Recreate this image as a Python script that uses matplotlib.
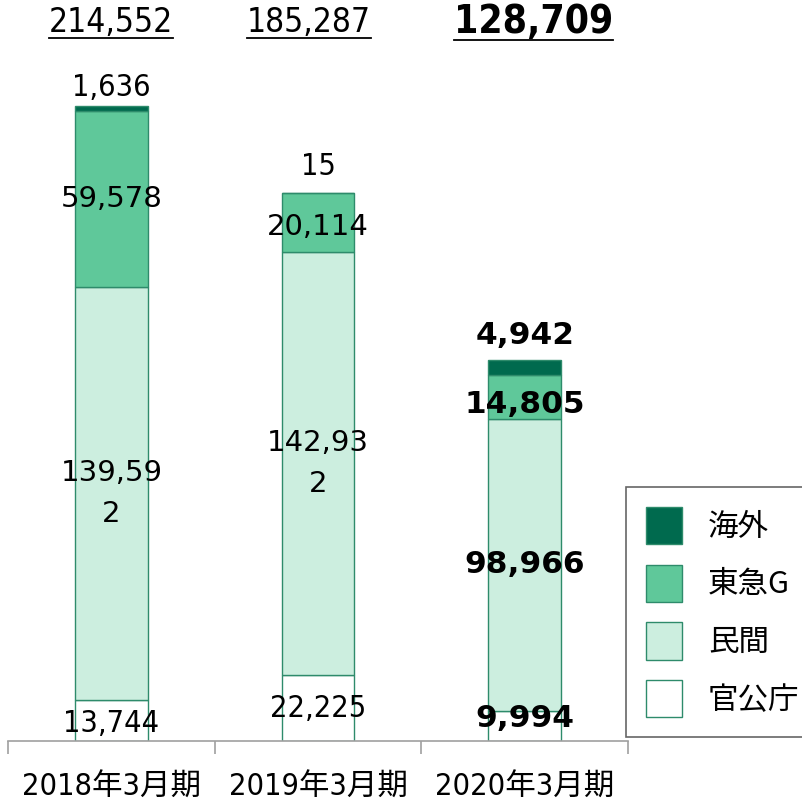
import matplotlib
matplotlib.use("Agg")
import matplotlib.pyplot as plt
from matplotlib.patches import Patch
from matplotlib.lines import Line2D

categories = ["2018年3月期", "2019年3月期", "2020年3月期"]
series_names = ["官公庁", "民間", "東急G", "海外"]
kankocho = [13744, 22225, 9994]
minkan = [139592, 142932, 98966]
tokyu_g = [59578, 20114, 14805]
kaigai = [1636, 15, 4942]
totals = [214552, 185287, 128709]

fills = {"官公庁": "#FFFFFF", "民間": "#CCEEDF", "東急G": "#5FC89A", "海外": "#006A4E"}
edge = "#2E8B6B"

NARROW = ["DejaVu Sans", "Noto Sans CJK JP"]
WIDE = ["DejaVu Sans", "Noto Sans CJK JP"]
CJK = ["Noto Sans CJK JP", "DejaVu Sans"]

fig = plt.figure(figsize=(8.02, 8.02), dpi=100)
ax = fig.add_axes([8 / 802, 61 / 802, 620 / 802, 741 / 802])
ax.set_xlim(-0.5, 2.5)
ax.set_ylim(0, 250363)

x = list(range(len(categories)))
w = 0.353
series = [("官公庁", kankocho), ("民間", minkan), ("東急G", tokyu_g), ("海外", kaigai)]
bottoms = [0, 0, 0]
for name, vals in series:
    ax.bar(x, vals, w, bottom=bottoms, color=fills[name], edgecolor=edge, linewidth=1.0, zorder=2)
    bottoms = [b + v for b, v in zip(bottoms, vals)]

# spines / ticks
for s in ["top", "right", "left"]:
    ax.spines[s].set_visible(False)
ax.spines["bottom"].set_color("#A0A0A0")
ax.spines["bottom"].set_linewidth(1.2)
ax.set_yticks([])
ax.set_xticks([-0.5, 0.5, 1.5, 2.5])
ax.set_xticklabels([])
ax.tick_params(axis="x", direction="out", length=9, width=1.2, color="#A0A0A0")
for i, c in enumerate(categories):
    ax.annotate(c, xy=(i, 0), xytext=(0, -33), textcoords="offset points",
                ha="center", va="center", fontsize=22, family=NARROW, fontstretch="condensed")

def seg_label(i, y, txt, fam, bold=False, size=21, ls=1.2, narrow=False):
    ax.text(i, y, txt, ha="center", va="center", fontsize=size, family=fam,
            fontweight="bold" if bold else "normal", linespacing=ls, zorder=5,
            fontstretch="condensed" if narrow else "normal")

# bar 1
seg_label(0, kankocho[0] / 2 - 1000, "13,744", NARROW, size=22, narrow=True)
seg_label(0, kankocho[0] + minkan[0] / 2, "139,59\n2", WIDE, ls=1.6)
seg_label(0, kankocho[0] + minkan[0] + tokyu_g[0] / 2, "59,578", WIDE)
ax.annotate("1,636", xy=(0, totals[0]), xytext=(0, 13), textcoords="offset points",
            ha="center", va="center", fontsize=22, family=NARROW, fontstretch="condensed")
# bar 2
seg_label(1, kankocho[1] / 2, "22,225", NARROW, size=22, narrow=True)
seg_label(1, kankocho[1] + minkan[1] / 2, "142,93\n2", WIDE, ls=1.6)
seg_label(1, kankocho[1] + minkan[1] + tokyu_g[1] / 2 - 1500, "20,114", WIDE)
ax.annotate("15", xy=(1, totals[1]), xytext=(0, 19), textcoords="offset points",
            ha="center", va="center", fontsize=22, family=NARROW, fontstretch="condensed")
# bar 3
seg_label(2, kankocho[2] / 2 + 2700, "9,994", WIDE, bold=True, size=22.5)
seg_label(2, kankocho[2] + minkan[2] / 2, "98,966", WIDE, bold=True, size=22.5)
seg_label(2, kankocho[2] + minkan[2] + tokyu_g[2] / 2 - 2700, "14,805", WIDE, bold=True, size=22.5)
ax.annotate("4,942", xy=(2, totals[2]), xytext=(0, 18), textcoords="offset points",
            ha="center", va="center", fontsize=22.5, family=WIDE, fontweight="bold")

# totals
tot_offsets = [0.0, -0.044, 0.044]
tot_texts = []
for i, t in enumerate(totals):
    bold = i == 2
    tt = ax.text(i + tot_offsets[i], 0.970, f"{t:,}", transform=ax.get_xaxis_transform(),
                 ha="center", va="center",
                 fontsize=28 if bold else 24, family=NARROW, fontweight="bold" if bold else "normal",
                 fontstretch="condensed", clip_on=False)
    tot_texts.append(tt)

# legend
handles = [Patch(facecolor=fills[n], edgecolor=edge, linewidth=1.0, label=n)
           for n in ["海外", "東急G", "民間", "官公庁"]]
leg = fig.legend(handles=handles, loc="upper left", bbox_to_anchor=(626 / 802, 1 - 487 / 802),
                 prop={"family": CJK, "size": 22}, frameon=True, fancybox=False,
                 edgecolor="#404040", handlelength=1.18, handleheight=1.5,
                 labelspacing=0.67, handletextpad=0.85, borderpad=0.65, borderaxespad=0)
leg.get_frame().set_linewidth(1.2)

# underlines for totals
fig.canvas.draw()
r = fig.canvas.get_renderer()
for tt in tot_texts:
    bb = tt.get_window_extent(r)
    yb = bb.y0 + 1
    fig.add_artist(Line2D([bb.x0 / 802, bb.x1 / 802], [yb / 802, yb / 802],
                          transform=fig.transFigure, color="black", linewidth=1.3))

fig.savefig("out.png", dpi=100)
